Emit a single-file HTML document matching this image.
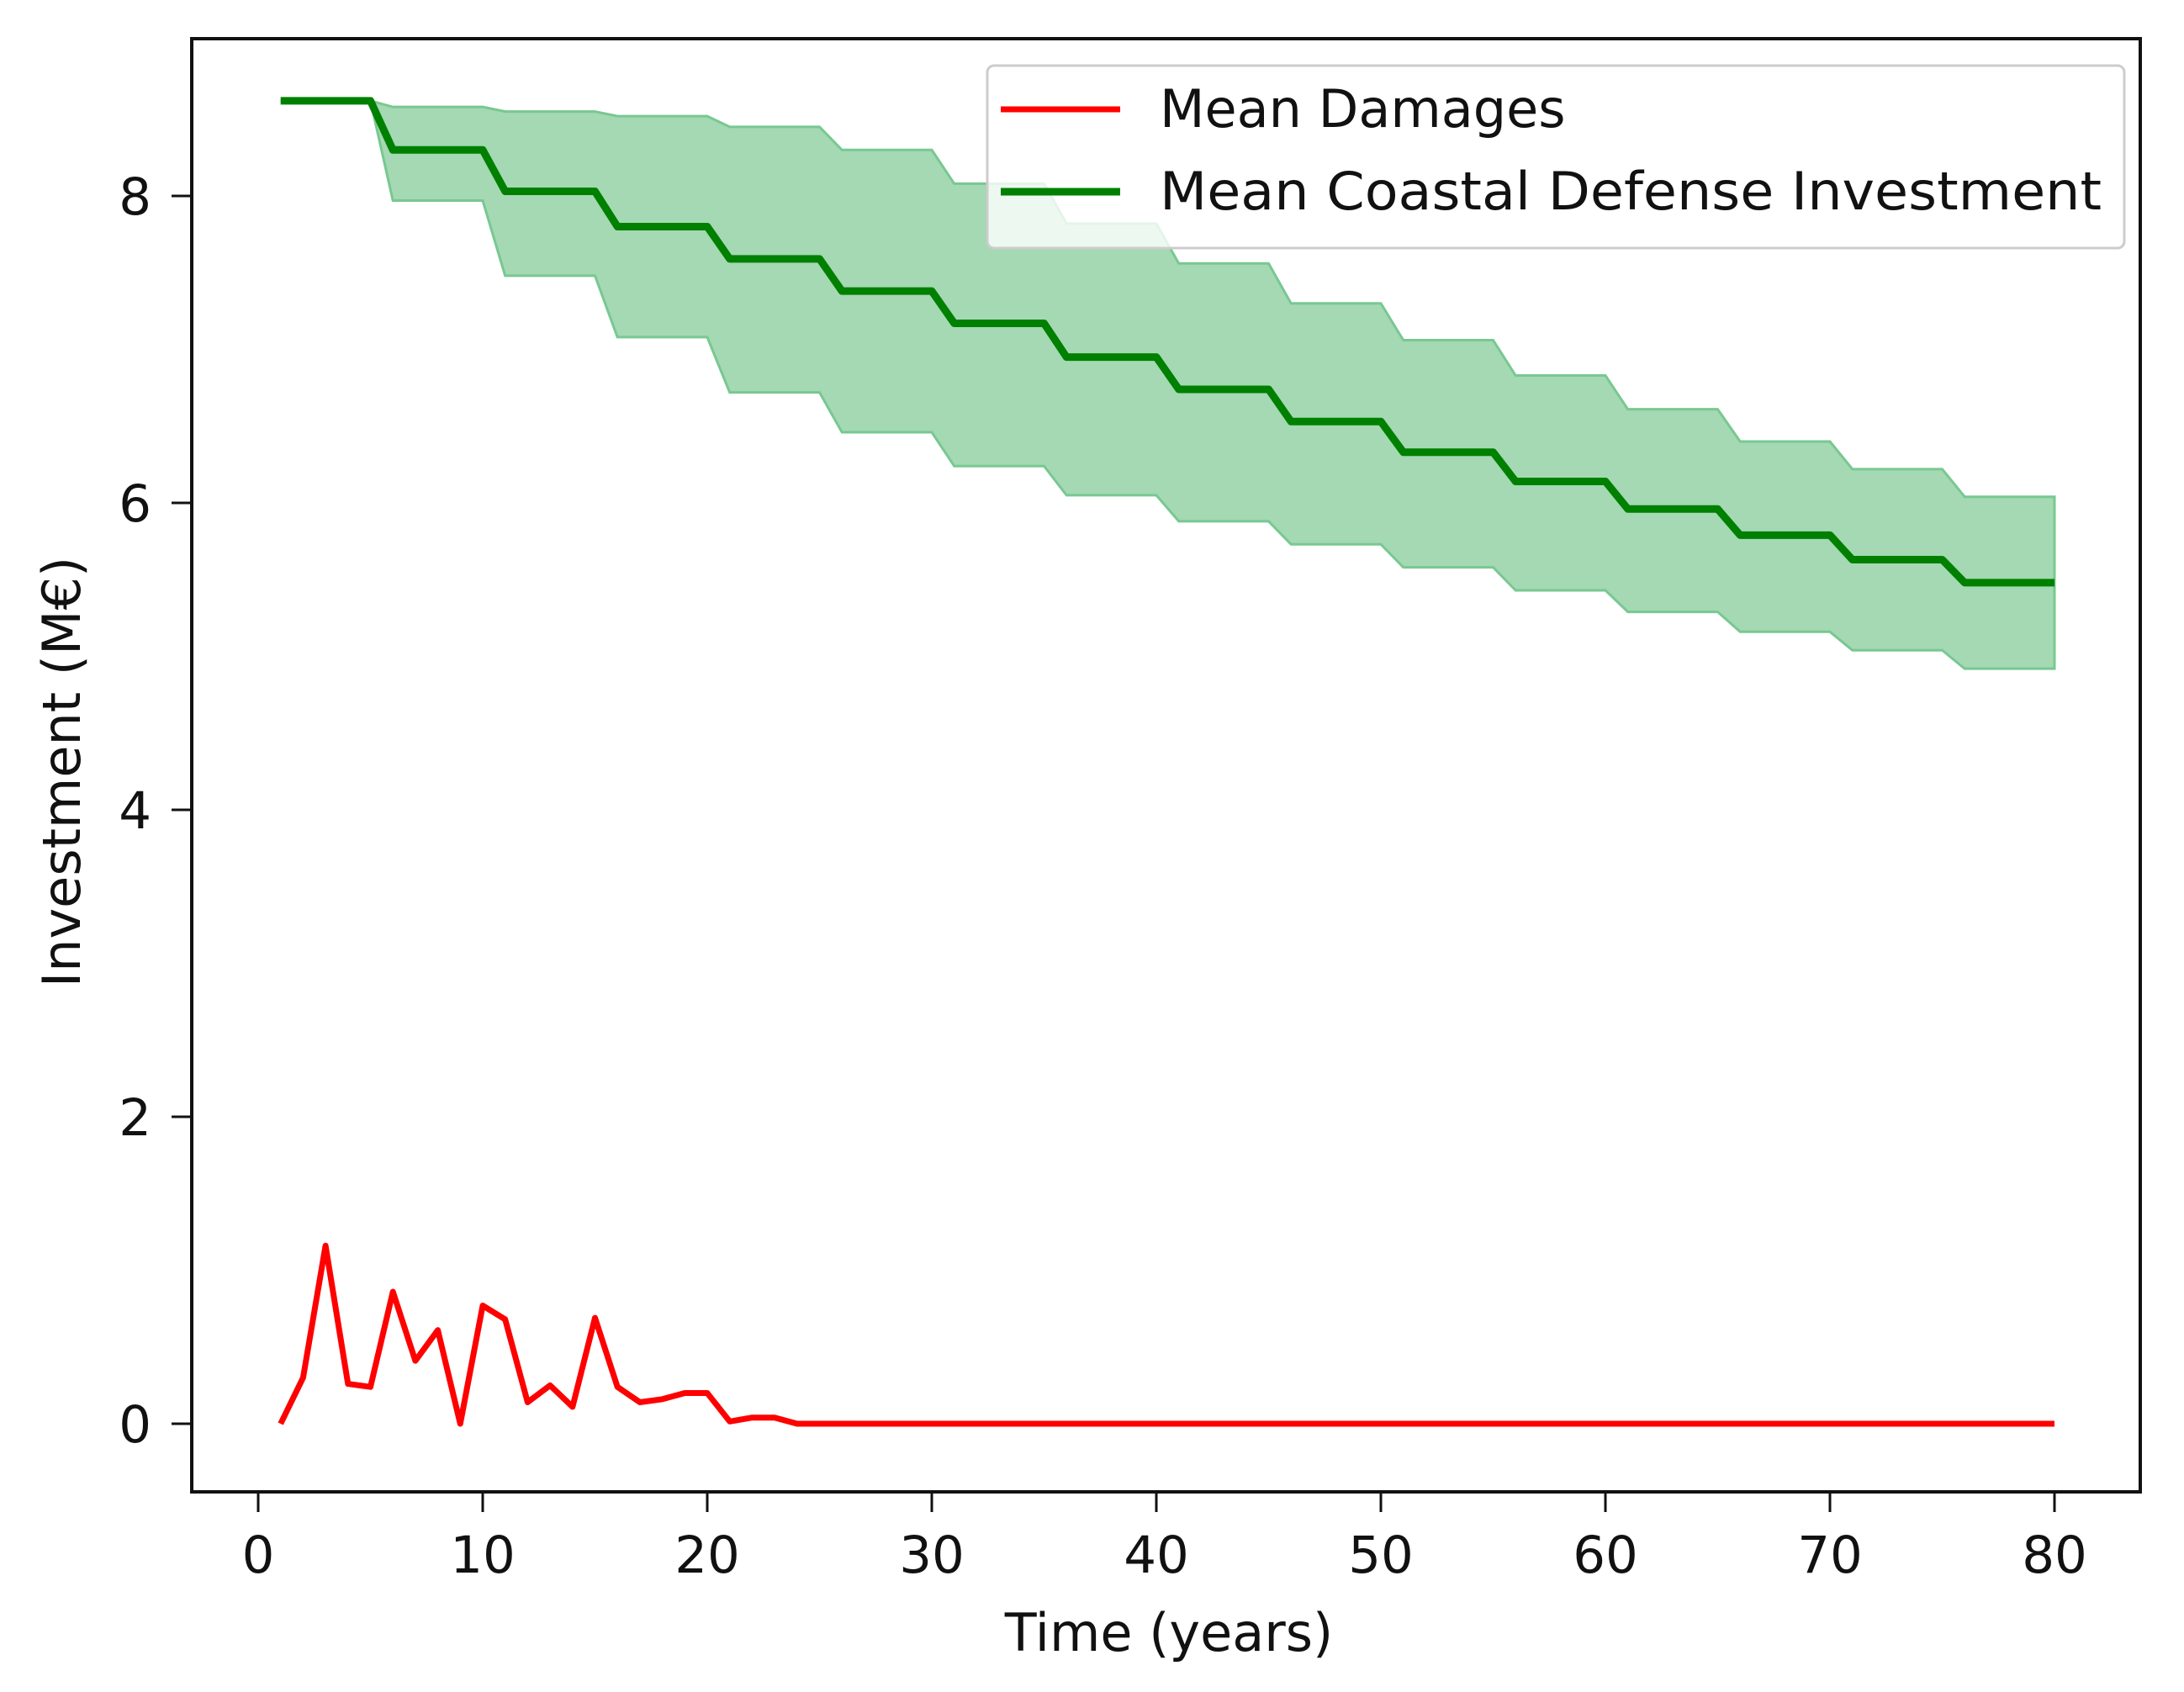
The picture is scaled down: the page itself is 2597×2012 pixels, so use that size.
<!DOCTYPE html>
<html><head><meta charset="utf-8"><style>
html,body{margin:0;padding:0;background:#fff;}
svg{display:block;font-family:"DejaVu Sans","Liberation Sans",sans-serif;}
</style></head><body>
<svg id="chart" width="2597" height="2012" viewBox="0 0 2597 2012">
<g id="plot"></g>
</svg>
<script>
const years = Array.from({length:80},(_,i)=>i+1);
const meanStep = [8.62,8.30,8.03,7.80,7.59,7.38,7.17,6.95,6.74,6.53,6.33,6.14,5.96,5.79,5.63,5.48];
const upperStep = [8.62,8.58,8.55,8.52,8.45,8.30,8.08,7.82,7.56,7.30,7.06,6.83,6.61,6.40,6.22,6.04];
const lowerStep = [8.62,7.97,7.48,7.08,6.72,6.46,6.24,6.05,5.88,5.73,5.58,5.43,5.29,5.16,5.04,4.92];
const damages = [0,0.30,1.16,0.26,0.24,0.86,0.41,0.61,0,0.77,0.68,0.14,0.25,0.11,0.69,0.24,0.14,0.16,0.20,0.20,0.015,0.04,0.04,0,0,0,0,0,0,0,0,0,0,0,0,0,0,0,0,0,0,0,0,0,0,0,0,0,0,0,0,0,0,0,0,0,0,0,0,0,0,0,0,0,0,0,0,0,0,0,0,0,0,0,0,0,0,0,0,0];
const xTicks = [0,10,20,30,40,50,60,70,80];
const yTicks = [0,2,4,6,8];

const NS="http://www.w3.org/2000/svg";
const L=228,R=2545,T=46,B=1774;
const xs=v=>307+v*26.7;
const ys=v=>1693-v*182.5;
const g=document.getElementById('plot');
function mk(tag,attrs,parent){const e=document.createElementNS(NS,tag);for(const k in attrs)e.setAttribute(k,attrs[k]);(parent||g).appendChild(e);return e;}
const stepVal=(arr,yr)=>arr[Math.floor((yr-1)/5)];

let pts=years.map(y=>xs(y)+','+ys(stepVal(upperStep,y)));
pts=pts.concat(years.slice().reverse().map(y=>xs(y)+','+ys(stepVal(lowerStep,y))));
const band=mk('polygon',{points:pts.join(' '),fill:'rgb(164,217,179)',stroke:'rgb(120,200,145)','stroke-width':3});



const mean=mk('polyline',{points:years.map(y=>xs(y)+','+ys(stepVal(meanStep,y))).join(' '),fill:'none',stroke:'#008000','stroke-width':9,'stroke-linejoin':'round'});



const dmg=mk('polyline',{points:years.map((y,i)=>xs(y)+','+ys(damages[i])).join(' '),fill:'none',stroke:'#ff0000','stroke-width':7,'stroke-linejoin':'round'});



const fr=mk('rect',{x:L,y:T,width:R-L,height:B-T,fill:'none',stroke:'#111','stroke-width':4});



xTicks.forEach(t=>{
  const tk=mk('line',{x1:xs(t),x2:xs(t),y1:B,y2:B+24,stroke:'#111','stroke-width':3});
  
  
  const tx=mk('text',{x:xs(t),y:1870,'text-anchor':'middle','font-size':61,fill:'#111'});
  tx.textContent=t;
  
  
});
yTicks.forEach(t=>{
  const tk=mk('line',{x1:L-24,x2:L,y1:ys(t),y2:ys(t),stroke:'#111','stroke-width':3});
  
  
  const tx=mk('text',{x:180,y:ys(t)+22,'text-anchor':'end','font-size':61,fill:'#111'});
  tx.textContent=t;
  
  
});
const xt=mk('text',{x:1390,y:1963,'text-anchor':'middle','font-size':62,fill:'#111'});
xt.textContent='Time (years)';


const yt=mk('text',{x:0,y:0,'text-anchor':'middle','font-size':62,fill:'#111',transform:'translate(95,918) rotate(-90)'});
yt.textContent='Investment (M€)';



const lg=mk('g',{});


mk('rect',{x:1174,y:78,width:1352,height:217,rx:8,fill:'rgba(255,255,255,0.8)',stroke:'#ccc','stroke-width':3},lg);
const e1=mk('g',{},lg);


mk('line',{x1:1190,x2:1332,y1:130,y2:130,stroke:'#ff0000','stroke-width':7},e1);
const t1=mk('text',{x:1379,y:151,'font-size':62,fill:'#111'},e1);t1.textContent='Mean Damages';
const e2=mk('g',{},lg);


mk('line',{x1:1190,x2:1332,y1:228,y2:228,stroke:'#008000','stroke-width':9},e2);
const t2=mk('text',{x:1379,y:249,'font-size':62,fill:'#111','textLength':1120,'lengthAdjust':'spacingAndGlyphs'},e2);t2.textContent='Mean Coastal Defense Investment';
</script>
</body></html>
